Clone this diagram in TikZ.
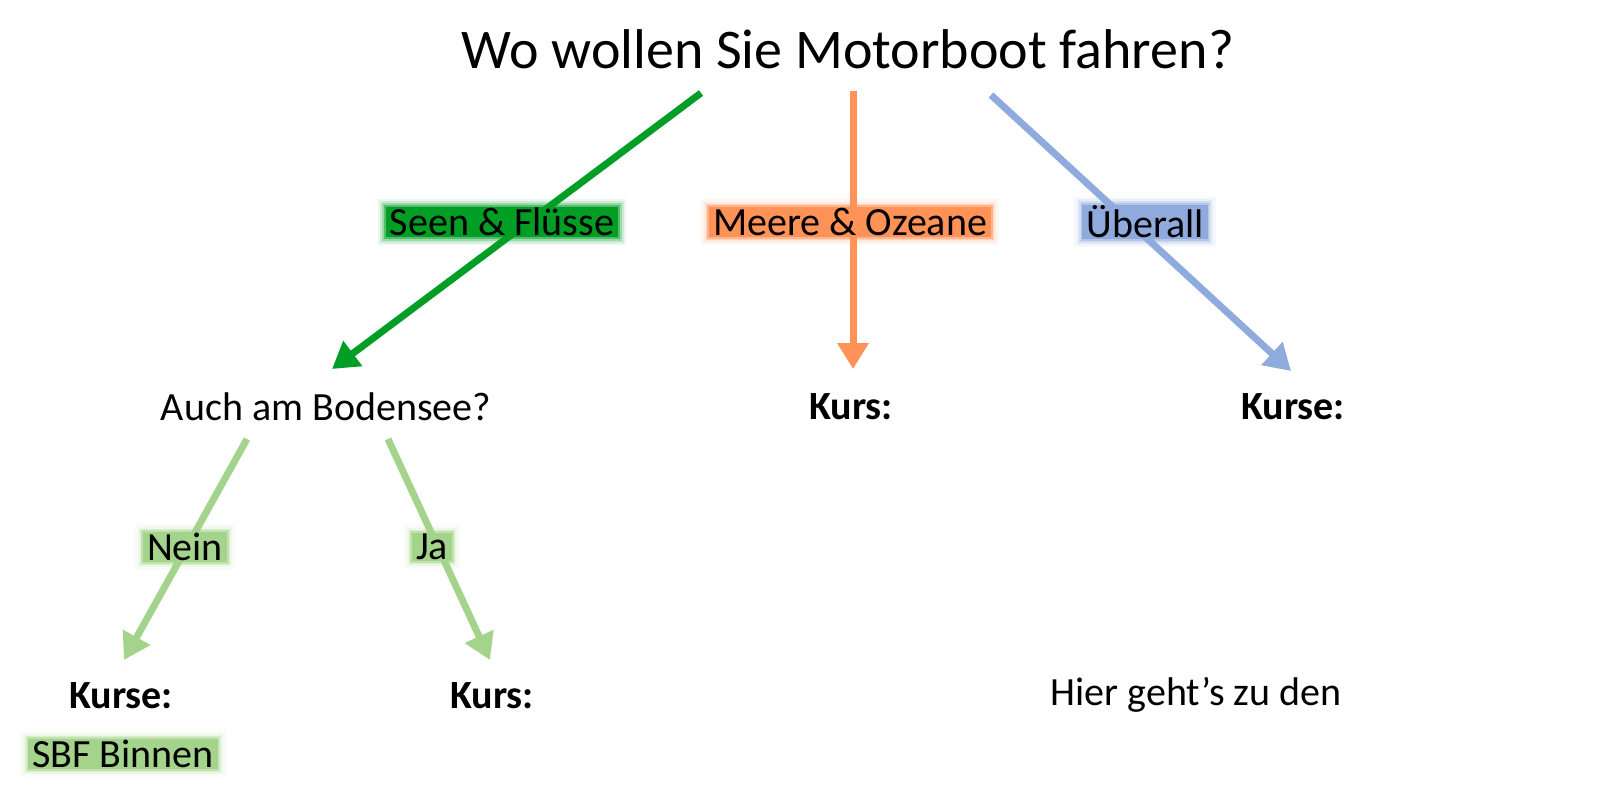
\documentclass[tikz,border=0pt]{standalone}
\usepackage{fontspec}
\setmainfont{Carlito}
\usetikzlibrary{arrows.meta}
\definecolor{dgreen}{RGB}{0,158,37}
\definecolor{lgreen}{RGB}{164,212,140}
\definecolor{orng}{RGB}{255,146,87}
\definecolor{blu}{RGB}{143,170,220}
\tikzset{
  txt/.style={font=\fontsize{40}{48}\selectfont, inner sep=0pt},
  btxt/.style={font=\fontsize{40}{48}\selectfont\bfseries, inner sep=0pt},
  glow/.style={fill=#1, inner xsep=4pt, inner ysep=1pt, font=\fontsize{40}{48}\selectfont,
    preaction={draw=#1, draw opacity=0.08, line width=16pt, rounded corners=6pt},
    preaction={draw=#1, draw opacity=0.12, line width=11pt, rounded corners=4pt},
    preaction={draw=#1, draw opacity=0.25, line width=7pt, rounded corners=2pt},
    preaction={draw=#1, draw opacity=0.45, line width=3.5pt}},
  conn/.style={draw=#1, line width=7pt, -{Triangle[length=26pt,width=30pt]}},
}
\begin{document}
\begin{tikzpicture}[x=1pt,y=-1pt]
\useasboundingbox (0,0) rectangle (1616,798);
\node[font=\fontsize{56}{64}\selectfont, inner sep=0pt] (title) at (848,49) {Wo wollen Sie Motorboot fahren?};
\coordinate (g0) at (701,93);
\coordinate (g1) at (332,369);
\coordinate (o0) at (853,91);
\coordinate (o1) at (853,369);
\coordinate (b0) at (991,95);
\coordinate (b1) at (1291,371);
\node[txt] (auch) at (326,407) {Auch am Bodensee?};
\node[btxt] (kurs1) at (851,407) {Kurs:};
\node[btxt] (kurse1) at (1293,407) {Kurse:};
\coordinate (n0) at (247,439);
\coordinate (n1) at (124,660);
\coordinate (j0) at (388,439);
\coordinate (j1) at (490,660);
\node[btxt] (kurse2) at (121,696) {Kurse:};
\node[btxt] (kurs2) at (492,696) {Kurs:};
\node[glow=lgreen] (sbf) at (123,754) {SBF Binnen};
\node[txt] (hier) at (1196,695) {Hier geht’s zu den};
\draw[conn=dgreen] (g0) -- (g1);
\draw[conn=orng] (o0) -- (o1);
\draw[conn=blu] (b0) -- (b1);
\draw[conn=lgreen] (n0) -- (n1);
\draw[conn=lgreen] (j0) -- (j1);
\node[glow=dgreen] (lseen) at (502,222) {Seen \& Flüsse};
\node[glow=orng] (lmeer) at (850,222) {Meere \& Ozeane};
\node[glow=blu] (luber) at (1145,222) {Überall};
\node[glow=lgreen] (lnein) at (185,547) {Nein};
\node[glow=lgreen] (lja) at (432,547) {Ja};
\end{tikzpicture}
\end{document}
